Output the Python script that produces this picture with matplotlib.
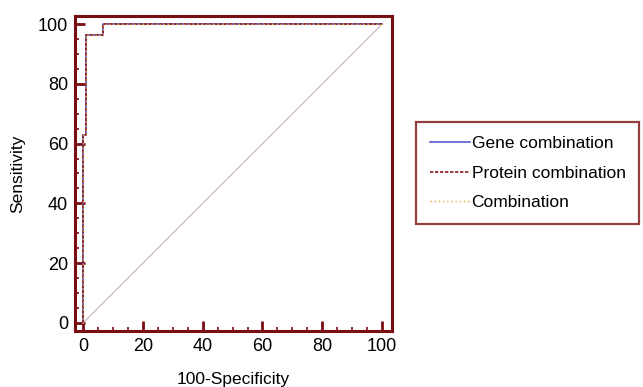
import numpy as np
import matplotlib.pyplot as plt
from matplotlib.ticker import MultipleLocator
plt.rcParams["font.family"] = ["Liberation Sans", "DejaVu Sans"]

# ROC 曲线数据 (100-Specificity, Sensitivity)
fpr = [0, 0, 1, 1, 6.7, 6.7, 100]
tpr = [0, 63, 63, 96.3, 96.3, 100, 100]
ref_x = [0, 100]
ref_y = [0, 100]
series = ["Gene combination", "Protein combination", "Combination"]

frame_col = "#7a0d12"

fig = plt.figure(figsize=(6.43, 3.87), dpi=100)
ax = fig.add_axes([0.1166, 0.1447, 0.4930, 0.8140])

ax.plot(ref_x, ref_y, color="#c8b4b8", lw=0.8)
ax.plot(fpr, tpr, color="#5a5ad0", lw=1.2, label=series[0])
ax.plot(fpr, tpr, color="#8a1a1a", lw=1.2, ls=(0, (2, 1)), label=series[1])
ax.plot(fpr, tpr, color="#e0a040", lw=1.0, ls=(0, (1, 2)), label=series[2])

ax.set_xlim(-2.7, 103.3)
ax.set_ylim(-2.7, 102.7)
ax.xaxis.set_major_locator(MultipleLocator(20))
ax.yaxis.set_major_locator(MultipleLocator(20))
ax.xaxis.set_minor_locator(MultipleLocator(5))
ax.yaxis.set_minor_locator(MultipleLocator(5))
ax.tick_params(which="major", direction="in", length=7, width=2, color=frame_col,
               labelsize=13, pad=5)
ax.tick_params(which="minor", direction="in", length=3, width=1.2, color=frame_col)
for s in ax.spines.values():
    s.set_color(frame_col)
    s.set_linewidth(2.2)

ax.set_xlabel("100-Specificity", fontsize=12.5, labelpad=12)
ax.set_ylabel("Sensitivity", fontsize=12.5, labelpad=9)

leg = fig.legend(loc="upper left", bbox_to_anchor=(0.647, 0.685), fontsize=12.5,
                 frameon=True, fancybox=False, handlelength=2.3, handletextpad=0.1,
                 borderpad=0.8, labelspacing=0.84, borderaxespad=0)
leg.get_frame().set_edgecolor(frame_col)
leg.get_frame().set_linewidth(1.6)

fig.savefig("out.png", dpi=100)
